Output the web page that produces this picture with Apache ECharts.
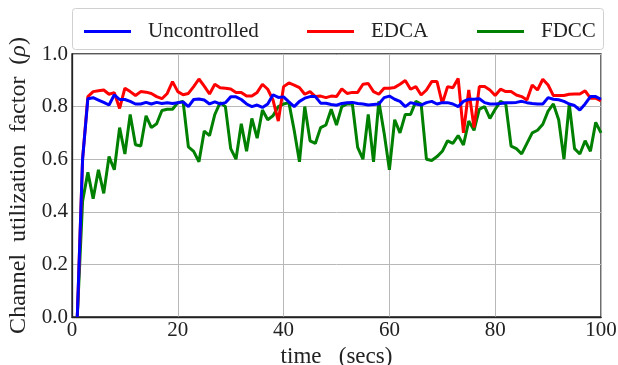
<!DOCTYPE html>
<html>
<head>
<meta charset="utf-8">
<script src="https://cdn.jsdelivr.net/npm/echarts@6/dist/echarts.min.js"></script>
<style>html,body{margin:0;padding:0;background:#fff}#c{width:618px;height:365px}</style>
</head>
<body>
<div id="c"></div>
<script>
const time = [];
for (let t = 1; t <= 100; t++) time.push(t);
const xTicks = [0, 20, 40, 60, 80, 100];
const yTicks = [0.0, 0.2, 0.4, 0.6, 0.8, 1.0];
const seriesNames = ['Uncontrolled', 'EDCA', 'FDCC'];
const uncontrolled = [0,0.6,0.83,0.834,0.825,0.816,0.806,0.845,0.827,0.827,
0.82,0.81,0.81,0.816,0.81,0.816,0.812,0.815,0.812,0.815,
0.818,0.80,0.827,0.829,0.825,0.81,0.818,0.81,0.815,0.837,
0.837,0.827,0.81,0.80,0.806,0.797,0.81,0.845,0.835,0.837,
0.818,0.80,0.82,0.832,0.838,0.838,0.813,0.813,0.808,0.805,
0.812,0.815,0.816,0.812,0.81,0.806,0.808,0.81,0.834,0.84,
0.828,0.82,0.80,0.815,0.81,0.806,0.815,0.82,0.81,0.815,
0.815,0.81,0.80,0.82,0.828,0.828,0.83,0.815,0.81,0.81,
0.812,0.815,0.815,0.816,0.82,0.815,0.812,0.81,0.81,0.834,
0.828,0.826,0.82,0.81,0.804,0.787,0.81,0.838,0.838,0.828];
const edca = [0,0.60,0.838,0.857,0.86,0.863,0.847,0.853,0.793,0.87,
0.857,0.842,0.857,0.855,0.85,0.838,0.83,0.85,0.895,0.857,
0.845,0.85,0.876,0.905,0.878,0.848,0.885,0.872,0.87,0.867,
0.854,0.854,0.84,0.84,0.854,0.885,0.866,0.825,0.745,0.876,
0.89,0.882,0.872,0.847,0.857,0.838,0.84,0.834,0.84,0.838,
0.867,0.85,0.854,0.854,0.885,0.888,0.857,0.847,0.87,0.87,
0.873,0.885,0.899,0.866,0.876,0.844,0.863,0.895,0.895,0.812,
0.876,0.872,0.907,0.70,0.863,0.72,0.876,0.876,0.863,0.842,
0.866,0.857,0.857,0.844,0.838,0.825,0.882,0.863,0.904,0.882,
0.842,0.842,0.842,0.847,0.848,0.848,0.86,0.832,0.832,0.822];
const fdcc = [0,0.44,0.55,0.45,0.56,0.47,0.61,0.56,0.72,0.62,
0.77,0.655,0.65,0.765,0.72,0.735,0.785,0.79,0.79,0.815,
0.82,0.647,0.63,0.59,0.707,0.69,0.77,0.815,0.80,0.64,
0.60,0.735,0.63,0.755,0.68,0.787,0.75,0.765,0.80,0.81,
0.815,0.71,0.59,0.80,0.67,0.66,0.72,0.73,0.79,0.73,
0.80,0.81,0.81,0.645,0.60,0.77,0.59,0.82,0.70,0.56,
0.75,0.70,0.77,0.77,0.82,0.81,0.60,0.595,0.61,0.63,
0.67,0.66,0.69,0.654,0.745,0.71,0.79,0.80,0.755,0.79,
0.82,0.81,0.65,0.64,0.62,0.66,0.70,0.71,0.733,0.783,
0.81,0.75,0.60,0.81,0.64,0.62,0.67,0.63,0.74,0.70];
const colors = ['#0000ff', '#ff0000', '#008000'];
const values = [uncontrolled, edca, fdcc];

const FONT = 'Liberation Serif';
const chart = echarts.init(document.getElementById('c'), null, {renderer: 'canvas'});
const legendLefts = [79, 302, 472];
chart.setOption({
  animation: false,
  backgroundColor: '#fff',
  color: colors,
  grid: {left: 72, right: 17, top: 54, bottom: 48, show: true, borderColor: '#222', borderWidth: 1.3,
    backgroundColor: 'transparent', containLabel: false, outerBoundsMode: 'none'},
  graphic: [{
    type: 'rect', left: 72, top: 8, z: -1,
    shape: {width: 531, height: 41, r: 3},
    style: {fill: '#fff', stroke: '#d0d0d0', lineWidth: 1}
  }],
  legend: seriesNames.map((n, i) => ({
    data: [n], left: legendLefts[i], top: 16,
    icon: 'rect', itemWidth: 47, itemHeight: 3, itemGap: 0,
    textStyle: {fontFamily: FONT, fontSize: 21, color: '#222', padding: [0, 0, 0, 12]},
    selectedMode: false
  })),
  xAxis: {
    type: 'value', min: 0, max: 100, interval: 20,
    name: 'time   (secs)', nameLocation: 'middle', nameGap: 25,
    nameTextStyle: {fontFamily: FONT, fontSize: 23, color: '#222'},
    axisLine: {show: true, lineStyle: {color: '#222', width: 1.3}},
    axisTick: {show: false},
    axisLabel: {fontFamily: FONT, fontSize: 21, color: '#222', margin: 3,
      formatter: v => xTicks.includes(v) ? String(v) : ''},
    splitLine: {show: true, lineStyle: {color: '#b8b8b8', width: 1}}
  },
  yAxis: {
    type: 'value', min: 0, max: 1, interval: 0.2,
    name: '{a|Channel  utilization  factor  (}{i|ρ}{a|)}', nameLocation: 'middle', nameGap: 33,
    nameTextStyle: {fontFamily: FONT, fontSize: 24, color: '#222',
      rich: {a: {fontFamily: FONT, fontSize: 24, color: '#222'},
             i: {fontFamily: FONT, fontSize: 24, color: '#222', fontStyle: 'italic'}}},
    axisLine: {show: true, lineStyle: {color: '#222', width: 1.3}},
    axisTick: {show: false},
    axisLabel: {fontFamily: FONT, fontSize: 21, color: '#222', margin: 4,
      formatter: v => { const m = yTicks.find(y => Math.abs(y - v) < 1e-6); return m === undefined ? '' : m.toFixed(1); }},
    splitLine: {show: true, lineStyle: {color: '#b8b8b8', width: 1}}
  },
  series: seriesNames.map((n, i) => ({
    name: n, type: 'line', showSymbol: false, symbol: 'none',
    data: time.map((t, k) => [t, values[i][k]]),
    lineStyle: {color: colors[i], width: 3},
    itemStyle: {color: colors[i]},
    clip: true,
    z: 2 + (2 - i)
  }))
});
</script>
</body>
</html>
